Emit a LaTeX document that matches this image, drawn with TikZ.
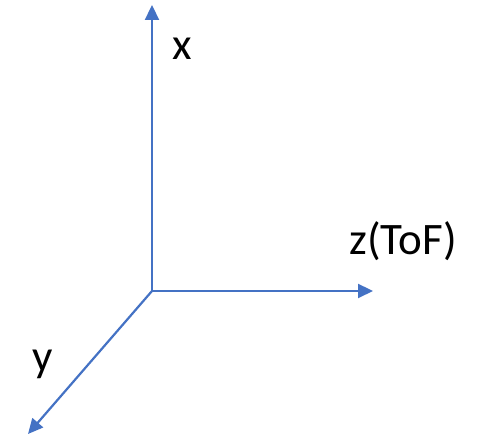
\documentclass[tikz,border=0pt]{standalone}
\usepackage{fontspec}
\setmainfont{Carlito}
\usetikzlibrary{arrows.meta}
\definecolor{axisblue}{HTML}{4472C4}
\begin{document}
\begin{tikzpicture}[x=1pt,y=1pt,
  axis/.style={draw=axisblue,line width=2.2pt,-{Triangle[length=15pt,width=14pt]}},
  lbl/.style={anchor=base,inner sep=0pt,font=\fontsize{45}{54}\selectfont}]
\useasboundingbox (0,0) rectangle (483,438);
\coordinate (o) at (152,147);
\coordinate (xt) at (152,433);
\coordinate (zt) at (373,147);
\coordinate (yt) at (28,4);
\draw[axis] (o) -- (xt);
\draw[axis] (o) -- (zt);
\draw[axis] (o) -- (yt);
\node[lbl] (xl) at (182.5,378) {x};
\node[lbl] (zl) at (403,183) {z(ToF)};
\node[lbl] (yl) at (42.5,66) {y};
\end{tikzpicture}
\end{document}
